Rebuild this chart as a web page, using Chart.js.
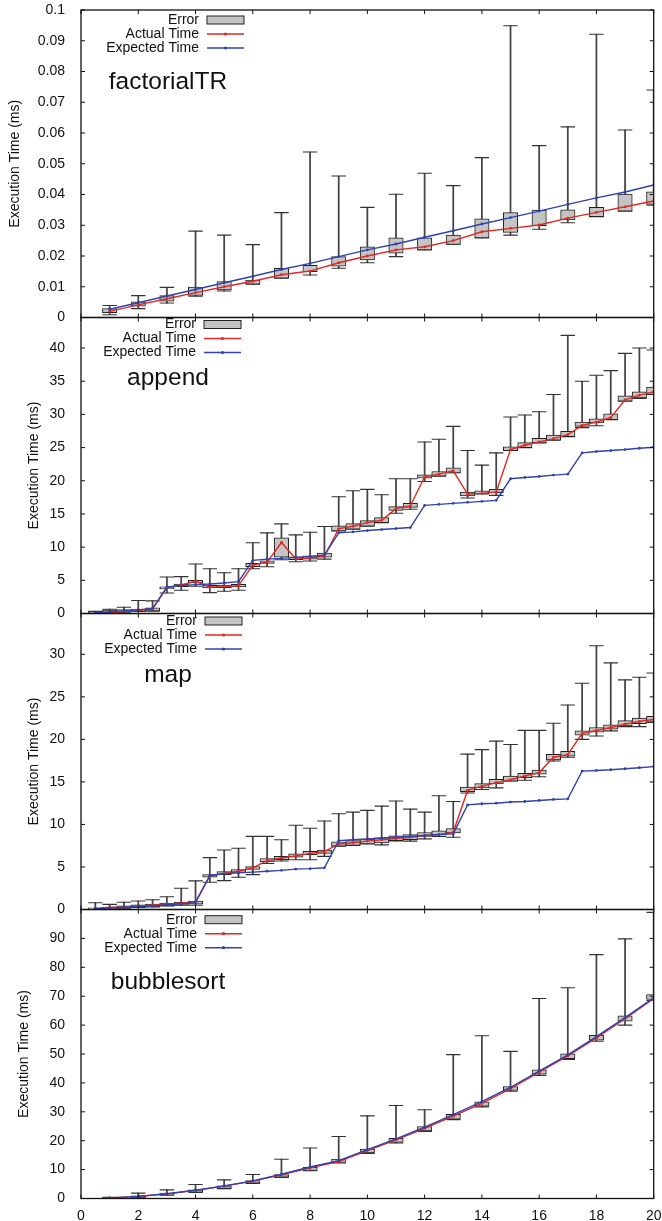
<!DOCTYPE html>
<html lang="en">
<head>
<meta charset="UTF-8">
<script src="https://cdn.jsdelivr.net/npm/chart.js"></script>
<title>Execution Time</title>
<style>
  body { margin: 0; background: #fff; }
  #wrap { position: relative; width: 662px; height: 1221px; }
  #wrap canvas { position: absolute; left: 0; top: 0; }
</style>
</head>
<body>
<div id="wrap">
  <canvas id="p1" width="662" height="1221"></canvas>
  <canvas id="p2" width="662" height="1221"></canvas>
  <canvas id="p3" width="662" height="1221"></canvas>
  <canvas id="p4" width="662" height="1221"></canvas>
</div>
<script>
// ---- data ----
const legendLabels = ['Error', 'Actual Time', 'Expected Time'];
const yTitle = 'Execution Time (ms)';

const wholeX = [1, 2, 3, 4, 5, 6, 7, 8, 9, 10, 11, 12, 13, 14, 15, 16, 17, 18, 19, 20];
const halfX = [0.5, 1, 1.5, 2, 2.5, 3, 3.5, 4, 4.5, 5, 5.5, 6, 6.5, 7, 7.5, 8, 8.5, 9, 9.5, 10,
               10.5, 11, 11.5, 12, 12.5, 13, 13.5, 14, 14.5, 15, 15.5, 16, 16.5, 17, 17.5, 18, 18.5, 19, 19.5, 20];

// factorialTR
const factActual   = [0.0020, 0.0041, 0.0061, 0.0081, 0.0100, 0.0118, 0.0139, 0.0151, 0.0178, 0.0200,
                      0.0220, 0.0230, 0.0250, 0.0279, 0.0290, 0.0301, 0.0323, 0.0342, 0.0360, 0.0379];
const factExpected = [0.0027, 0.0048, 0.0070, 0.0091, 0.0113, 0.0134, 0.0156, 0.0176, 0.0198, 0.0220,
                      0.0239, 0.0261, 0.0282, 0.0304, 0.0325, 0.0346, 0.0368, 0.0389, 0.0408, 0.0431];
const factBoxLo    = [0.0016, 0.0037, 0.0053, 0.0072, 0.0090, 0.0108, 0.0128, 0.0149, 0.0167, 0.0187,
                      0.0209, 0.0220, 0.0238, 0.0259, 0.0277, 0.0299, 0.0317, 0.0328, 0.0346, 0.0368];
const factBoxHi    = [0.0029, 0.0051, 0.0071, 0.0099, 0.0117, 0.0122, 0.0160, 0.0170, 0.0198, 0.0230,
                      0.0259, 0.0259, 0.0268, 0.0321, 0.0341, 0.0349, 0.0350, 0.0358, 0.0401, 0.0409];
const factLow      = [0.0009, 0.0029, 0.0047, 0.0069, 0.0086, 0.0108, 0.0128, 0.0138, 0.0160, 0.0178,
                      0.0198, 0.0220, 0.0238, 0.0259, 0.0268, 0.0287, 0.0308, 0.0328, 0.0346, 0.0365];
const factHigh     = [0.0039, 0.0071, 0.0098, 0.0281, 0.0268, 0.0237, 0.0341, 0.0538, 0.0460, 0.0358,
                      0.0401, 0.0469, 0.0429, 0.0520, 0.0949, 0.0559, 0.0620, 0.0921, 0.0610, 0.0740];

// append
const appActual   = [0.05, 0.15, 0.3, 0.45, 0.7, 3.9, 4.3, 4.85, 4.0, 4.05, 4.2, 7.3, 7.75, 10.7, 8.2, 8.4, 8.6,
                     12.8, 13.15, 13.7, 14.05, 15.8, 16.2, 20.6, 21.0, 21.5, 18.0, 18.1, 18.3,
                     24.7, 25.35, 25.85, 26.35, 26.95, 28.35, 28.85, 29.5, 32.2, 32.9, 33.4];
const appExpected = [0.1, 0.25, 0.4, 0.55, 0.75, 4.0, 4.2, 4.35, 4.45, 4.6, 4.8, 8.0, 8.2, 8.3, 8.45, 8.6, 8.8,
                     12.15, 12.3, 12.5, 12.65, 12.8, 12.95, 16.3, 16.45, 16.6, 16.75, 16.9, 17.05,
                     20.3, 20.5, 20.65, 20.85, 21.0, 24.2, 24.4, 24.55, 24.7, 24.9, 25.05];
const appBoxLo    = [0.0, 0.15, 0.25, 0.35, 0.4, 3.7, 4.05, 4.6, 3.85, 3.9, 4.0, 7.05, 7.55, 8.5, 8.1, 8.2, 8.5,
                     12.45, 12.7, 13.15, 13.7, 15.55, 16.0, 20.4, 20.7, 21.2, 17.7, 18.0, 18.2,
                     24.55, 25.0, 25.7, 26.1, 26.65, 28.2, 28.7, 29.2, 32.0, 32.5, 33.0];
const appBoxHi    = [0.3, 0.5, 0.6, 0.65, 0.85, 4.0, 4.45, 5.0, 4.25, 4.3, 4.4, 7.55, 7.95, 11.4, 8.55, 8.7, 9.1,
                     13.2, 13.55, 14.0, 14.45, 16.1, 16.6, 20.9, 21.4, 21.95, 18.3, 18.5, 18.7,
                     25.1, 25.75, 26.4, 26.9, 27.45, 28.85, 29.35, 30.1, 32.8, 33.4, 34.1];
const appLow      = [0.0, 0.1, 0.2, 0.3, 0.35, 3.1, 3.5, 4.1, 3.15, 3.35, 3.5, 6.75, 7.05, 8.1, 7.8, 7.9, 8.2,
                     12.45, 12.7, 13.15, 13.7, 15.1, 15.7, 19.9, 20.7, 21.2, 17.4, 18.0, 17.8,
                     24.55, 25.0, 25.7, 26.1, 26.65, 28.0, 28.3, 29.2, 32.0, 32.4, 33.0];
const appHigh     = [0.35, 0.65, 0.95, 1.95, 1.9, 5.5, 5.55, 7.45, 6.75, 6.15, 6.75, 10.65, 12.15, 13.5, 11.85, 12.25, 13.1,
                     17.6, 18.5, 18.7, 17.9, 20.3, 20.3, 25.85, 26.25, 28.2, 24.55, 22.35, 24.2,
                     29.6, 29.9, 30.4, 33.0, 41.9, 35.0, 35.9, 36.6, 39.2, 40.0, 39.7];

// map
const mapActual   = [0.1, 0.25, 0.3, 0.43, 0.5, 0.63, 0.75, 0.9, 3.95, 4.25, 4.5, 4.9, 5.75, 6.05, 6.3, 6.6, 6.8,
                     7.7, 7.84, 8.04, 8.2, 8.35, 8.5, 8.67, 8.8, 9.1, 14.0, 14.5, 14.9, 15.25, 15.7, 16.1,
                     17.9, 18.2, 20.7, 21.05, 21.4, 21.8, 22.1, 22.35];
const mapExpected = [0.1, 0.2, 0.27, 0.35, 0.43, 0.55, 0.67, 0.8, 4.0, 4.2, 4.3, 4.4, 4.5, 4.6, 4.75, 4.8, 4.9,
                     8.1, 8.2, 8.3, 8.4, 8.5, 8.6, 8.7, 8.8, 8.9, 12.3, 12.43, 12.5, 12.63, 12.7, 12.82,
                     12.94, 13.0, 16.27, 16.35, 16.43, 16.55, 16.67, 16.8];
const mapBoxLo    = [0.0, 0.05, 0.15, 0.23, 0.3, 0.43, 0.5, 0.63, 3.8, 4.1, 4.35, 4.7, 5.6, 5.85, 6.15, 6.45, 6.6,
                     7.45, 7.53, 7.72, 7.84, 8.1, 8.2, 8.6, 8.8, 9.0, 13.85, 14.3, 14.75, 15.1, 15.5, 15.9,
                     17.6, 18.04, 20.5, 20.86, 21.2, 21.57, 21.85, 22.1];
const mapBoxHi    = [0.2, 0.27, 0.43, 0.55, 0.63, 0.75, 0.86, 1.0, 4.1, 4.45, 4.7, 5.05, 6.0, 6.25, 6.55, 6.85, 7.0,
                     7.96, 8.1, 8.27, 8.43, 8.67, 8.8, 9.05, 9.25, 9.5, 14.4, 14.8, 15.3, 15.7, 16.0, 16.4,
                     18.25, 18.6, 21.0, 21.4, 21.7, 22.2, 22.5, 22.7];
const mapLow      = [0.0, 0.05, 0.15, 0.23, 0.3, 0.43, 0.5, 0.5, 3.2, 3.4, 3.8, 4.1, 5.4, 5.7, 5.85, 5.85, 6.25,
                     7.45, 7.53, 7.72, 7.6, 8.05, 8.04, 8.3, 8.6, 8.5, 13.7, 14.1, 14.3, 15.1, 15.2, 15.6,
                     17.45, 17.9, 20.0, 20.4, 21.0, 21.5, 21.5, 22.0];
const mapHigh     = [0.8, 0.6, 0.86, 1.0, 1.15, 1.5, 2.5, 3.37, 6.1, 7.0, 7.2, 8.6, 8.6, 8.2, 9.9, 9.55, 10.4,
                     11.25, 11.45, 11.65, 12.15, 12.75, 11.8, 11.45, 13.37, 12.7, 18.27, 18.8, 19.8, 19.4, 21.06, 21.06,
                     21.9, 24.04, 26.6, 31.0, 29.0, 27.0, 27.3, 27.8];

// bubblesort
const bubActual   = [0.2, 0.7, 1.6, 2.8, 4.3, 6.0, 8.2, 10.6, 12.8, 16.6, 20.3, 24.3, 28.5, 32.9, 38.0, 43.7, 49.3, 55.6, 62.2, 69.2];
const bubExpected = [0.2, 0.75, 1.65, 2.85, 4.35, 6.1, 8.4, 10.9, 13.1, 16.9, 20.6, 24.7, 29.0, 33.5, 38.5, 44.1, 49.7, 56.0, 62.6, 69.4];
const bubBoxLo    = [0.0, 0.2, 1.15, 2.2, 3.45, 5.3, 7.4, 9.7, 12.45, 15.8, 19.4, 23.4, 27.45, 31.95, 37.4, 43.0, 48.4, 54.8, 61.4, 68.85];
const bubBoxHi    = [0.35, 0.9, 1.85, 3.0, 4.4, 6.2, 8.3, 10.8, 13.6, 17.1, 20.8, 24.9, 29.1, 33.45, 38.75, 44.5, 50.1, 56.5, 63.2, 70.6];
const bubLow      = [0.0, 0.2, 1.1, 2.1, 3.4, 5.2, 7.3, 9.6, 12.3, 15.6, 19.2, 23.2, 27.3, 31.7, 37.1, 42.6, 48.1, 54.4, 60.0, 68.5];
const bubHigh     = [0.4, 1.85, 3.0, 4.85, 6.45, 8.3, 13.6, 17.5, 21.45, 28.6, 32.2, 30.7, 49.8, 56.3, 50.9, 69.2, 72.9, 84.4, 89.85, 99.0];

// ---- styling ----
const FONT = '"Liberation Sans", Arial, Helvetica, sans-serif';
const RED = 'rgb(226,40,34)';
const BLUE = 'rgb(46,66,176)';
const BOX_FILL = '#c4c4c4';
const INK = '#111';

// border box with inward ticks on all four sides
const framePlugin = {
  id: 'frame',
  afterDatasetsDraw(chart) {
    const { ctx, chartArea: a, scales: { x, y } } = chart;
    ctx.save();
    ctx.strokeStyle = INK;
    ctx.lineWidth = 1;
    ctx.beginPath();
    x.ticks.forEach(t => {
      const px = x.getPixelForValue(t.value);
      ctx.moveTo(px, a.top); ctx.lineTo(px, a.top + 4);
      ctx.moveTo(px, a.bottom); ctx.lineTo(px, a.bottom - 4);
    });
    y.ticks.forEach(t => {
      const py = y.getPixelForValue(t.value);
      ctx.moveTo(a.left, py); ctx.lineTo(a.left + 4, py);
      ctx.moveTo(a.right, py); ctx.lineTo(a.right - 4, py);
    });
    ctx.stroke();
    ctx.lineWidth = 1.3;
    ctx.strokeRect(a.left, a.top, a.right - a.left, a.bottom - a.top);
    ctx.restore();
  }
};

// panel name and gnuplot-like key
const panelTextPlugin = {
  id: 'panelText',
  afterDraw(chart, args, o) {
    const { ctx, chartArea: a } = chart;
    ctx.save();
    ctx.fillStyle = INK;
    ctx.textBaseline = 'middle';
    ctx.textAlign = 'center';
    ctx.font = '24.5px ' + FONT;
    ctx.fillText(o.title, 168, a.top + o.titleDy);

    ctx.font = '14px ' + FONT;
    ctx.textAlign = 'right';
    legendLabels.forEach((lab, i) => {
      const yy = a.top + o.keyDy + i * 14;
      const x0 = o.keyRight + 8, x1 = x0 + 37;
      ctx.fillStyle = INK;
      ctx.fillText(lab, o.keyRight, yy);
      if (i === 0) {
        ctx.fillStyle = BOX_FILL;
        ctx.fillRect(x0, yy - 4, x1 - x0, 8);
        ctx.strokeStyle = '#222';
        ctx.lineWidth = 1;
        ctx.strokeRect(x0, yy - 4, x1 - x0, 8);
      } else {
        const c = i === 1 ? RED : BLUE;
        ctx.strokeStyle = c;
        ctx.lineWidth = 1.5;
        ctx.beginPath(); ctx.moveTo(x0, yy); ctx.lineTo(x1, yy); ctx.stroke();
        ctx.fillStyle = c;
        ctx.beginPath(); ctx.arc((x0 + x1) / 2, yy, 1.6, 0, Math.PI * 2); ctx.fill();
      }
    });
    ctx.restore();
  }
};

// keep the plot frame exactly where the layout padding puts it
function noScalePadding(s) {
  s.paddingLeft = 0; s.paddingRight = 0; s.paddingTop = 0; s.paddingBottom = 0;
}

function makePanel(id, p) {
  const pts = ys => p.x.map((v, i) => ({ x: v, y: ys[i] }));
  const rng = (lo, hi) => p.x.map((v, i) => ({ x: v, y: [lo[i], hi[i]] }));
  const caps = pts(p.low).concat(pts(p.high));
  const font = { family: FONT, size: 14 };

  new Chart(document.getElementById(id), {
    type: 'line',
    data: {
      datasets: [
        { type: 'line', label: 'Actual Time', data: pts(p.actual), borderColor: RED, backgroundColor: RED,
          borderWidth: 1.4, pointRadius: 1.4, pointBorderWidth: 0, order: 2 },
        { type: 'line', label: 'Expected Time', data: pts(p.expected), borderColor: BLUE, backgroundColor: BLUE,
          borderWidth: 1.4, pointRadius: 1.4, pointBorderWidth: 0, order: 1 },
        { type: 'bar', label: 'Error', data: rng(p.boxLo, p.boxHi), backgroundColor: BOX_FILL,
          borderColor: '#222', borderWidth: 1, borderSkipped: false, barThickness: 14.4, grouped: false, order: 3 },
        { type: 'scatter', data: caps, pointStyle: 'line', pointRadius: 7.2, borderColor: '#333',
          borderWidth: 1.1, order: 4 },
        { type: 'bar', data: rng(p.low, p.high), backgroundColor: '#454545', barThickness: 1.1,
          grouped: false, order: 5 }
      ]
    },
    options: {
      responsive: false,
      animation: false,
      devicePixelRatio: 1,
      events: [],
      layout: { padding: { left: 0, right: 6, top: p.top, bottom: p.padBottom } },
      plugins: {
        legend: { display: false },
        tooltip: { enabled: false },
        panelText: { title: p.title, titleDy: p.titleDy, keyDy: p.keyDy, keyRight: p.keyRight }
      },
      scales: {
        x: {
          type: 'linear', min: 0, max: 20, offset: false,
          grid: { display: false }, border: { display: false },
          ticks: { stepSize: 2, display: p.showX, autoSkip: false, maxRotation: 0, font, color: INK, padding: 1 },
          afterFit: s => { s.height = p.showX ? 22.5 : 0; noScalePadding(s); }
        },
        y: {
          type: 'linear', min: 0, max: p.yMax,
          grid: { display: false }, border: { display: false },
          ticks: {
            stepSize: p.step, includeBounds: false, autoSkip: false, font, color: INK, padding: 8,
            callback: v => (v > p.labelMax ? '' : String(+v.toFixed(3)))
          },
          title: { display: true, text: yTitle, font, color: INK, padding: { top: p.titlePad, bottom: 0 } },
          afterFit: s => { s.width = 81; noScalePadding(s); }
        }
      }
    },
    plugins: [framePlugin, panelTextPlugin]
  });
}

makePanel('p1', {
  x: wholeX, actual: factActual, expected: factExpected, boxLo: factBoxLo, boxHi: factBoxHi, low: factLow, high: factHigh,
  title: 'factorialTR', yMax: 0.1, step: 0.01, labelMax: Infinity, top: 10, padBottom: 903.5, showX: false,
  titlePad: 6.6, titleDy: 72, keyDy: 10, keyRight: 199
});
makePanel('p2', {
  x: halfX, actual: appActual, expected: appExpected, boxLo: appBoxLo, boxHi: appBoxHi, low: appLow, high: appHigh,
  title: 'append', yMax: 44.6, step: 5, labelMax: Infinity, top: 317.5, padBottom: 607.5, showX: false,
  titlePad: 25.6, titleDy: 60.5, keyDy: 7, keyRight: 196
});
makePanel('p3', {
  x: halfX, actual: mapActual, expected: mapExpected, boxLo: mapBoxLo, boxHi: mapBoxHi, low: mapLow, high: mapHigh,
  title: 'map', yMax: 34.8, step: 5, labelMax: Infinity, top: 613.5, padBottom: 311.5, showX: false,
  titlePad: 25.6, titleDy: 62, keyDy: 7.5, keyRight: 197
});
makePanel('p4', {
  x: wholeX, actual: bubActual, expected: bubExpected, boxLo: bubBoxLo, boxHi: bubBoxHi, low: bubLow, high: bubHigh,
  title: 'bubblesort', yMax: 100, step: 10, labelMax: 90, top: 909.5, padBottom: 0, showX: true,
  titlePad: 16, titleDy: 72.5, keyDy: 10.2, keyRight: 197
});
</script>
</body>
</html>
